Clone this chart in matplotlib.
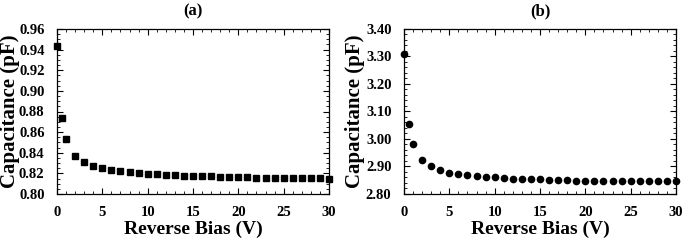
import numpy as np
import matplotlib
matplotlib.use("Agg")
import matplotlib.pyplot as plt
from matplotlib.ticker import MultipleLocator, FormatStrFormatter

plt.rcParams['font.family'] = ['Liberation Serif', 'DejaVu Serif']
plt.rcParams['font.weight'] = 'bold'

# reverse bias points (V)
bias = [0, 0.5, 1, 2, 3, 4, 5, 6, 7, 8, 9, 10, 11, 12, 13, 14, 15,
        16, 17, 18, 19, 20, 21, 22, 23, 24, 25, 26, 27, 28, 29, 30]

# panel (a) capacitance (pF)
cap_a = [0.944, 0.874, 0.853, 0.837, 0.831, 0.827, 0.825, 0.823, 0.822, 0.821,
         0.820, 0.8195, 0.819, 0.8185, 0.818, 0.8178, 0.8175, 0.8172, 0.817, 0.8168,
         0.8165, 0.8163, 0.8161, 0.816, 0.8158, 0.8157, 0.8156, 0.8155, 0.8154, 0.8153,
         0.8152, 0.815]

# panel (b) capacitance (pF)
cap_b = [3.31, 3.055, 2.98, 2.925, 2.902, 2.888, 2.878, 2.872, 2.868, 2.865,
         2.862, 2.860, 2.858, 2.856, 2.855, 2.854, 2.853, 2.852, 2.851, 2.850,
         2.849, 2.849, 2.848, 2.848, 2.847, 2.847, 2.846, 2.846, 2.847, 2.847,
         2.847, 2.847]

fig = plt.figure(figsize=(6.85, 2.44), dpi=100)
ax1 = fig.add_axes([57/685, 50/244, 272/685, 165/244])
ax2 = fig.add_axes([404/685, 50/244, 272/685, 165/244])

def style(ax, ylim, ymajor, yminor, fmt, title, ylab_x):
    ax.set_xlim(0, 30)
    ax.set_ylim(*ylim)
    ax.xaxis.set_major_locator(MultipleLocator(5))
    ax.xaxis.set_minor_locator(MultipleLocator(1))
    ax.yaxis.set_major_locator(MultipleLocator(ymajor))
    ax.yaxis.set_minor_locator(MultipleLocator(yminor))
    ax.yaxis.set_major_formatter(FormatStrFormatter(fmt))
    ax.tick_params(which='both', direction='in', top=True, right=True, labelsize=10.5)
    ax.tick_params(which='major', length=4, width=0.8)
    ax.tick_params(axis='x', which='major', pad=9)
    ax.tick_params(axis='y', which='major', pad=9)
    ax.tick_params(which='minor', length=2, width=0.6)
    for s in ax.spines.values():
        s.set_linewidth(0.9)
    ax.set_xlabel('Reverse Bias (V)', fontsize=14, fontweight='bold', labelpad=1)
    ax.set_ylabel('Capacitance (pF)', fontsize=15, fontweight='bold')
    ax.yaxis.set_label_coords(ylab_x, 0.5)
    ax.set_title(title, fontsize=12, fontweight='bold', pad=10)
    for lab in ax.get_xticklabels() + ax.get_yticklabels():
        lab.set_fontweight('bold')

ax1.plot(bias, cap_a, linestyle='none', marker='s', markersize=4, color='black', clip_on=False)
ax2.plot(bias, cap_b, linestyle='none', marker='o', markersize=4.5, color='black', clip_on=False)

style(ax1, (0.80, 0.96), 0.02, 0.005, '%.2f', '(a)', -0.135)
style(ax2, (2.80, 3.40), 0.10, 0.02, '%.2f', '(b)', -0.145)

fig.savefig('out.png', dpi=100)
